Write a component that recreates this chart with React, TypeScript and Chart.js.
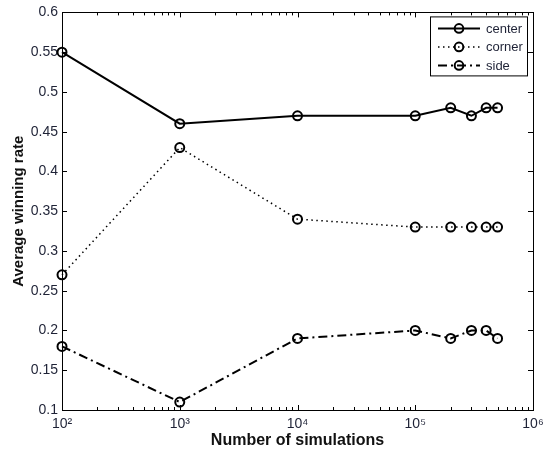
import React, { useEffect, useRef } from "react";
import { Chart, registerables } from "chart.js";

Chart.register(...registerables);

const simulations = [100, 1000, 10000, 100000, 200000, 300000, 400000, 500000];
const centerRate = [0.55, 0.46, 0.47, 0.47, 0.48, 0.47, 0.48, 0.48];
const cornerRate = [0.27, 0.43, 0.34, 0.33, 0.33, 0.33, 0.33, 0.33];
const sideRate = [0.18, 0.11, 0.19, 0.2, 0.19, 0.2, 0.2, 0.19];
const seriesNames = ["center", "corner", "side"];
const xDecades = [100, 1000, 10000, 100000, 1000000];
const minorMultipliers = [2, 3, 4, 5, 6, 7, 8, 9];
const supers: Record<string, string> = { "0": "⁰", "1": "¹", "2": "²", "3": "³", "4": "⁴", "5": "⁵", "6": "⁶", "7": "⁷", "8": "⁸", "9": "⁹" };

const FONT = "'Liberation Sans', Arial, sans-serif";
const TICK_COLOR = "#1e2236";

const boxTicksPlugin = {
  id: "boxTicks",
  afterDraw(chart: any) {
    const { ctx, chartArea } = chart;
    const { left, right, top, bottom } = chartArea;
    const xs = chart.scales.x;
    const ys = chart.scales.y;
    ctx.save();
    ctx.strokeStyle = "#000";
    ctx.lineWidth = 1;
    ctx.strokeRect(Math.round(left) + 0.5, Math.round(top) + 0.5, Math.round(right - left), Math.round(bottom - top));
    ctx.beginPath();
    const drawX = (v: number, len: number) => {
      const px = Math.round(xs.getPixelForValue(v)) + 0.5;
      ctx.moveTo(px, bottom);
      ctx.lineTo(px, bottom - len);
      ctx.moveTo(px, top);
      ctx.lineTo(px, top + len);
    };
    xDecades.forEach((d, i) => {
      drawX(d, 5);
      if (i < xDecades.length - 1) minorMultipliers.forEach((m) => drawX(d * m, 3));
    });
    ys.ticks.forEach((t: any) => {
      const py = Math.round(ys.getPixelForValue(t.value)) + 0.5;
      ctx.moveTo(left, py);
      ctx.lineTo(left + 5, py);
      ctx.moveTo(right, py);
      ctx.lineTo(right - 5, py);
    });
    ctx.stroke();
    ctx.restore();
  },
};

const legendPlugin = {
  id: "customLegend",
  afterDraw(chart: any) {
    const { ctx, chartArea } = chart;
    const bx = chartArea.right - 103;
    const by = chartArea.top + 4;
    const bw = 97;
    const bh = 59;
    ctx.save();
    ctx.fillStyle = "#fff";
    ctx.fillRect(bx, by, bw, bh);
    ctx.strokeStyle = "#000";
    ctx.lineWidth = 1;
    ctx.setLineDash([]);
    ctx.strokeRect(bx + 0.5, by + 0.5, bw, bh);
    chart.data.datasets.forEach((ds: any, i: number) => {
      const y = by + 12 + i * 18.5;
      ctx.strokeStyle = "#000";
      ctx.lineWidth = ds.borderWidth;
      ctx.setLineDash(ds.borderDash || []);
      ctx.beginPath();
      ctx.moveTo(bx + 8, y);
      ctx.lineTo(bx + 50, y);
      ctx.stroke();
      ctx.setLineDash([]);
      ctx.lineWidth = 2;
      ctx.beginPath();
      ctx.arc(bx + 29, y, 4.3, 0, Math.PI * 2);
      ctx.stroke();
      ctx.fillStyle = TICK_COLOR;
      ctx.font = `13px ${FONT}`;
      ctx.textBaseline = "middle";
      ctx.textAlign = "left";
      ctx.fillText(ds.label, bx + 56, y + 1);
    });
    ctx.restore();
  },
};

function toPoints(vals: number[]) {
  return simulations.map((x, i) => ({ x, y: vals[i] }));
}

export default function App() {
  const ref = useRef<HTMLCanvasElement | null>(null);
  useEffect(() => {
    document.body.style.margin = "0";
    const common = {
      borderColor: "#000",
      pointRadius: 4.5,
      pointBorderWidth: 2,
      pointBorderColor: "#000",
      pointBackgroundColor: "rgba(0,0,0,0)",
      fill: false,
      tension: 0,
      clip: false as const,
    };
    const chart = new Chart(ref.current!, {
      type: "line",
      data: {
        datasets: [
          { ...common, label: seriesNames[0], data: toPoints(centerRate), borderWidth: 2 },
          { ...common, label: seriesNames[1], data: toPoints(cornerRate), borderWidth: 1.5, borderDash: [1.5, 3.5] },
          { ...common, label: seriesNames[2], data: toPoints(sideRate), borderWidth: 2, borderDash: [9, 4, 2, 4] },
        ],
      },
      options: {
        responsive: false,
        animation: false,
        layout: { padding: { top: 9, right: 18, left: 0, bottom: 0 } },
        plugins: { legend: { display: false }, tooltip: { enabled: false } },
        scales: {
          x: {
            type: "logarithmic",
            min: 100,
            max: 1000000,
            grid: { display: false, drawTicks: false },
            border: { display: false },
            afterBuildTicks: (scale: any) => {
              scale.ticks = xDecades.map((v) => ({ value: v, major: true }));
            },
            afterFit: (scale: any) => {
              scale.height = 48;
            },
            ticks: {
              autoSkip: false,
              maxRotation: 0,
              padding: 6,
              color: TICK_COLOR,
              font: { family: FONT, size: 14 },
              callback: (v: any) => {
                const e = Math.round(Math.log10(Number(v)));
                return "10" + String(e).split("").map((c) => supers[c]).join("");
              },
            },
            title: {
              display: true,
              text: "Number of simulations",
              color: "#111",
              font: { family: FONT, size: 16, weight: "bold" },
              padding: { top: 0, bottom: 8 },
            },
          },
          y: {
            min: 0.1,
            max: 0.6,
            grid: { display: false, drawTicks: false },
            border: { display: false },
            afterFit: (scale: any) => {
              scale.width = 62;
            },
            ticks: {
              stepSize: 0.05,
              padding: 4,
              color: TICK_COLOR,
              font: { family: FONT, size: 14 },
              callback: (v: any) => String(Number(Number(v).toFixed(2))),
            },
            title: {
              display: true,
              text: "Average winning rate",
              color: "#111",
              font: { family: FONT, size: 15, weight: "bold" },
              padding: { top: 10, bottom: 0 },
            },
          },
        },
      } as any,
      plugins: [boxTicksPlugin, legendPlugin],
    });
    return () => chart.destroy();
  }, []);
  return (
    <div style={{ width: 551, height: 458, background: "#fff" }}>
      <canvas ref={ref} width={551} height={458} style={{ display: "block" }} />
    </div>
  );
}
